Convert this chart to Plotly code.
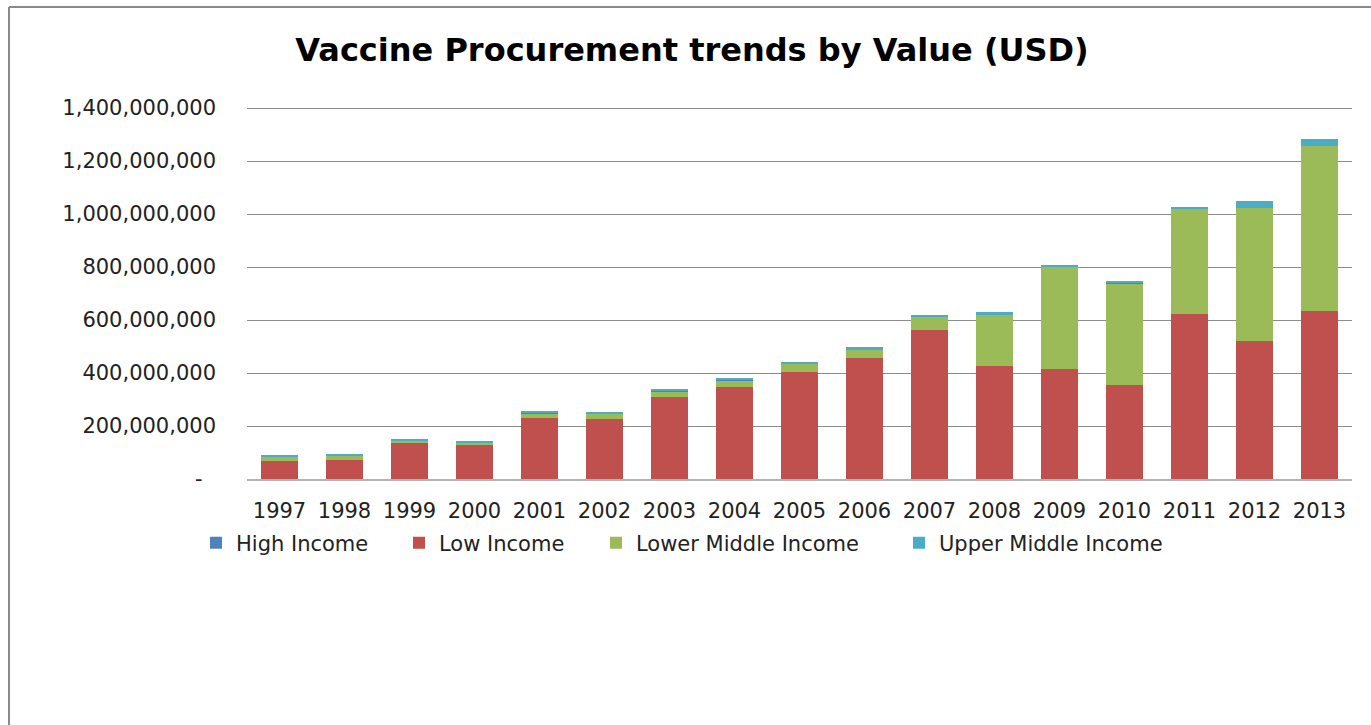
import plotly.graph_objects as go

# Procurement value per year, in USD, by country income group
years = ["1997", "1998", "1999", "2000", "2001", "2002", "2003", "2004", "2005",
         "2006", "2007", "2008", "2009", "2010", "2011", "2012", "2013"]
low_income = [67e6, 72e6, 136e6, 127e6, 230e6, 227e6, 310e6, 347e6, 404e6,
              456e6, 564e6, 426e6, 414e6, 354e6, 622e6, 521e6, 633e6]
lower_middle_income = [18e6, 16e6, 9e6, 9e6, 19e6, 19e6, 22e6, 23e6, 33e6,
                       34e6, 48e6, 195e6, 387e6, 383e6, 398e6, 503e6, 625e6]
high_income = [0.5e6, 0.5e6, 0.5e6, 0.5e6, 0.5e6, 0.5e6, 0.5e6, 5e6, 0.5e6,
               0.5e6, 0.5e6, 0.5e6, 0.5e6, 5e6, 0.5e6, 0.5e6, 0.5e6]
upper_middle_income = [5e6, 5e6, 5e6, 6e6, 4e6, 4e6, 4e6, 4e6, 4e6,
                       6e6, 5e6, 7e6, 6e6, 5e6, 7e6, 26e6, 25e6]

y_ticks = [0, 200e6, 400e6, 600e6, 800e6, 1000e6, 1200e6, 1400e6]
y_tick_text = ["-\u00a0\u00a0" if v == 0 else f"{int(v):,}" for v in y_ticks]

FONT = "DejaVu Sans"
W, H = 1371, 725
L, R, T, B = 247, 19, 105, 246
plot_w, plot_h = W - L - R, H - T - B
# a little headroom above the top tick so its gridline is drawn
Y_MAX = 1.4e9 * plot_h / 371


def px_x(p):
    return (p - L) / plot_w


def px_y(p):
    return (H - B - p) / plot_h


fig = go.Figure()
# drawing order: red base, green, thin blue, cyan on top; legend order via legendrank
series = [
    ("Low Income", low_income, "#C0504D", 2, 152),
    ("Lower Middle Income", lower_middle_income, "#9BBB59", 3, 258),
    ("High Income", high_income, "#4F81BD", 1, 158),
    ("Upper Middle Income", upper_middle_income, "#4BACC6", 4, 240),
]
for name, vals, color, rank, lw in series:
    fig.add_trace(go.Bar(
        x=years, y=vals, name=name, marker=dict(color=color, line=dict(width=0)),
        legendrank=rank, legendwidth=lw,
    ))

fig.update_layout(
    width=W, height=H,
    barmode="stack", bargap=0.43,
    plot_bgcolor="white", paper_bgcolor="white",
    margin=dict(l=L, r=R, t=T, b=B, autoexpand=False),
    font=dict(family=FONT, size=21, color="#222222"),
    title=dict(text="<b>Vaccine Procurement trends by Value (USD)</b>",
               font=dict(family=FONT, size=32, color="#000000"),
               x=px_x(692), xref="paper", xanchor="center",
               y=1 - 50 / H, yanchor="middle"),
    showlegend=True,
    legend=dict(orientation="h", traceorder="normal",
                x=px_x(196), xanchor="left",
                y=px_y(543), yanchor="middle",
                font=dict(family=FONT, size=21, color="#222222"),
                bgcolor="rgba(0,0,0,0)", itemclick=False),
    xaxis=dict(showgrid=False, showline=True, linecolor="#B4B4B4", linewidth=2,
               ticks="", tickfont=dict(size=21), ticklabelstandoff=12,
               fixedrange=True),
    yaxis=dict(range=[0, Y_MAX], tickvals=y_ticks, ticktext=y_tick_text,
               showgrid=True, gridcolor="#8C8C8C", gridwidth=1,
               zeroline=False, showline=False, ticks="",
               tickfont=dict(size=21), ticklabelstandoff=30, fixedrange=True),
    shapes=[
        # chart frame: top and left edges
        dict(type="line", xref="paper", yref="paper",
             x0=px_x(9), x1=px_x(W + 5), y0=px_y(7), y1=px_y(7),
             line=dict(color="#8A8A8A", width=2)),
        dict(type="line", xref="paper", yref="paper",
             x0=px_x(9), x1=px_x(9), y0=px_y(7), y1=px_y(H + 5),
             line=dict(color="#8A8A8A", width=2)),
    ],
)

fig.write_html("out.html")
